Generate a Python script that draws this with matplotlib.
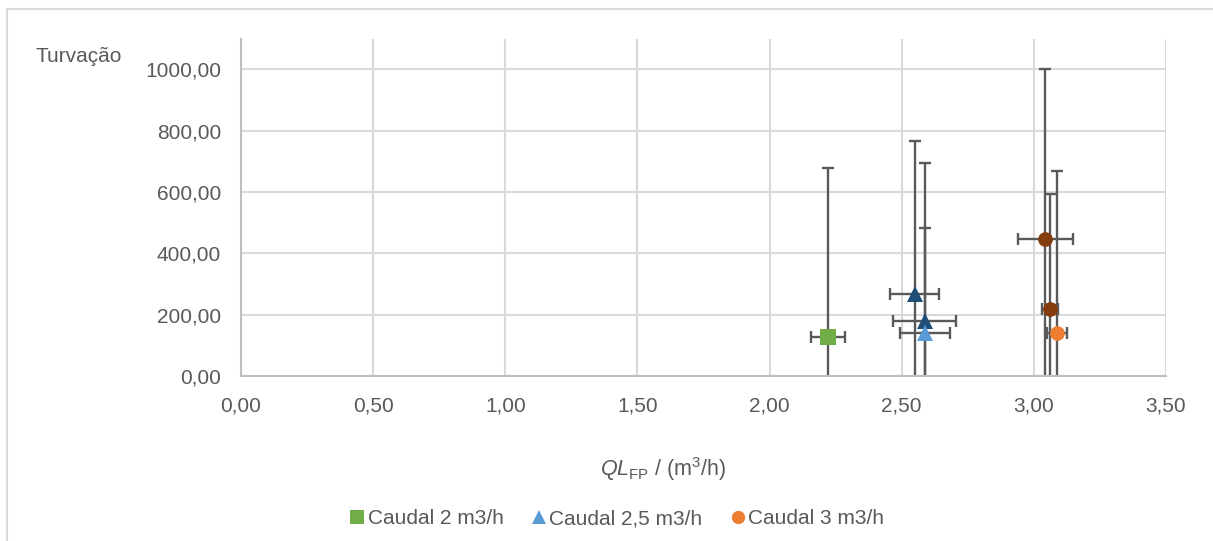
import matplotlib
matplotlib.use("Agg")
import matplotlib.pyplot as plt
from matplotlib.patches import Rectangle
from matplotlib.ticker import FixedLocator, FuncFormatter

plt.rcParams['font.family'] = ['Liberation Sans', 'DejaVu Sans']
plt.rcParams['mathtext.fontset'] = 'custom'
plt.rcParams['mathtext.rm'] = 'Liberation Sans'
plt.rcParams['mathtext.it'] = 'Liberation Sans:italic'

# ---- data ----
labels = ["Caudal 2 m3/h", "Caudal 2,5 m3/h", "Caudal 3 m3/h"]

green_x = [2.22]
green_y = [126]
green_xerr = [0.064]
green_yerr = [552]

lblue_x = [2.587]
lblue_y = [141]
lblue_xerr = [0.094]
lblue_yerr = [342]

orange_x = [3.088]
orange_y = [141]
orange_xerr = [0.039]
orange_yerr = [526]

dblue_x = [2.549, 2.587]
dblue_y = [267, 179]
dblue_xerr = [0.093, 0.119]
dblue_yerr = [498, 516]

brown_x = [3.043, 3.062]
brown_y = [446, 220]
brown_xerr = [0.104, 0.030]
brown_yerr = [554, 374]

xticks = [0, 0.5, 1.0, 1.5, 2.0, 2.5, 3.0, 3.5]
yticks = [0, 200, 400, 600, 800, 1000]

TXT = '#595959'
GRID = '#D9D9D9'
ERR = '#595959'
FS = 15

fig = plt.figure(figsize=(12.13, 5.41), dpi=100)
W, H = 1213, 541
# outer chart frame
fig.patches.append(Rectangle((7 / W, -0.1), 1.2, 1 - 9 / H + 0.1, transform=fig.transFigure,
                             fill=False, edgecolor='#D9D9D9', linewidth=1.5))

ax = fig.add_axes([241 / W, 1 - 376 / H, (1166 - 241) / W, (376 - 38.5) / H])

series = [
    (green_x, green_y, green_xerr, green_yerr, 's', '#70AD47', 11.3, labels[0]),
    (dblue_x, dblue_y, dblue_xerr, dblue_yerr, '^', '#1F4E79', 11, None),
    (lblue_x, lblue_y, lblue_xerr, lblue_yerr, '^', '#5B9BD5', 11, labels[1]),
    (brown_x, brown_y, brown_xerr, brown_yerr, 'o', '#843C0C', 10.6, None),
    (orange_x, orange_y, orange_xerr, orange_yerr, 'o', '#ED7D31', 10.6, labels[2]),
]

handles = []
for x, y, xe, ye, m, c, ms, lab in series:
    ax.errorbar(x, y, xerr=xe, yerr=ye, fmt='none', ecolor=ERR, elinewidth=1.7,
                capsize=4.5, capthick=1.7, zorder=2)
    h = ax.plot(x, y, linestyle='none', marker=m, color=c, markersize=ms,
                markeredgewidth=0, zorder=3, label=lab)[0]
    if lab:
        handles.append(h)

ax.set_xlim(0, 3.5)
ax.set_ylim(0, 1100)
ax.xaxis.set_major_locator(FixedLocator(xticks))
ax.yaxis.set_major_locator(FixedLocator(yticks))
ax.xaxis.set_major_formatter(FuncFormatter(lambda v, p: f"{v:.2f}".replace('.', ',')))
ax.yaxis.set_major_formatter(FuncFormatter(lambda v, p: f"{v:.2f}".replace('.', ',')))
ax.grid(True, color=GRID, linewidth=1.5, zorder=0)
ax.set_axisbelow(True)
for s in ['top', 'right']:
    ax.spines[s].set_visible(False)
for s in ['left', 'bottom']:
    ax.spines[s].set_color('#BFBFBF')
    ax.spines[s].set_linewidth(1.5)
ax.tick_params(length=0, labelsize=FS, labelcolor=TXT)
ax.tick_params(axis='y', pad=14.4)
ax.tick_params(axis='x', pad=14.5)

fig.text(36 / W, 1 - 62 / H, "Turvação", fontsize=FS, color=TXT, ha='left', va='baseline')
fig.text(663 / W, 1 - 469 / H, r"$\mathit{QL}_{\mathrm{FP}}$ / (m$^3$/h)", fontsize=15.5,
         color=TXT, ha='center', va='center')

leg = fig.legend(handles=handles, labels=labels, loc='center', ncol=3,
                 bbox_to_anchor=(617 / W, 1 - 519 / H), frameon=False,
                 fontsize=FS, handletextpad=0.15, columnspacing=1.35,
                 handlelength=0.7, markerscale=0.9, borderpad=0, borderaxespad=0)
for t in leg.get_texts():
    t.set_color(TXT)

fig.savefig("out.png", dpi=100)
